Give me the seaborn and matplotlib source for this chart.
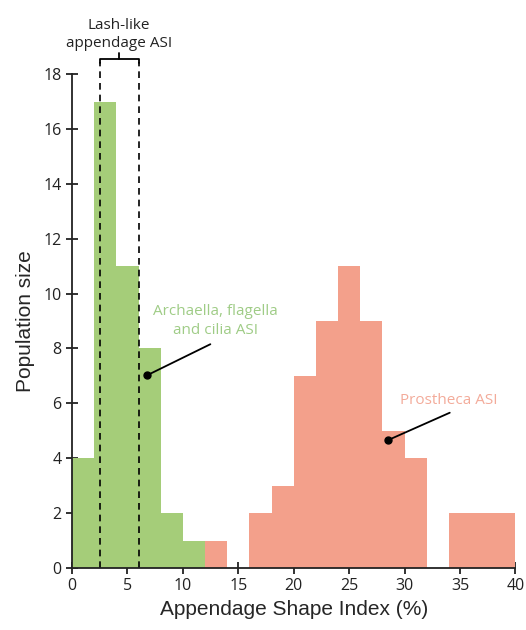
import matplotlib
matplotlib.use("Agg")
import matplotlib.pyplot as plt
import numpy as np
import pandas as pd
import seaborn as sns

# bin edges (width 2 %) and counts
bin_edges = list(range(0, 42, 2))
flag_left = [0, 2, 4, 6, 8, 10]
flag_counts = [4, 17, 11, 8, 2, 1]
pros_left = [12, 16, 18, 20, 22, 24, 26, 28, 30, 34, 36, 38]
pros_counts = [1, 2, 3, 7, 9, 11, 9, 5, 4, 2, 2, 2]
lash_range = [2.5, 6]

green = "#a5cd79"
salmon = "#f3a08b"

flag = pd.DataFrame({"asi": np.array(flag_left) + 1, "n": flag_counts})
pros = pd.DataFrame({"asi": np.array(pros_left) + 1, "n": pros_counts})

sns.set_style("ticks")
plt.rcParams["font.family"] = ["Open Sans", "DejaVu Sans"]

fig = plt.figure(figsize=(5.26, 6.3), dpi=100)
ax = fig.add_axes([0.137, 0.0984, 0.843, 0.784])

sns.histplot(data=flag, x="asi", weights="n", bins=bin_edges, color=green,
             alpha=1, edgecolor="none", linewidth=0, ax=ax)
sns.histplot(data=pros, x="asi", weights="n", bins=bin_edges, color=salmon,
             alpha=1, edgecolor="none", linewidth=0, ax=ax)

ax.set_xlim(0, 40)
ax.set_ylim(0, 18)
ax.set_xticks(range(0, 41, 5))
ax.set_yticks(range(0, 19, 2))
sns.despine(ax=ax)
for s in ["left", "bottom"]:
    ax.spines[s].set_linewidth(1.3)
    ax.spines[s].set_color("#222222")
ax.tick_params(direction="inout", length=8, width=1.3, labelsize=11.5, colors="#222222")

lab = dict(family=["Liberation Sans", "DejaVu Sans"], fontsize=15)
ax.set_xlabel("Appendage Shape Index (%)", labelpad=4, **lab)
ax.set_ylabel("Population size", labelpad=6, **lab)

# lash-like range
for xv in lash_range:
    ax.plot([xv, xv], [0, 18.45], ls=(0, (4, 3)), color="black", lw=1.2, clip_on=False)
xm = sum(lash_range) / 2
ax.plot([lash_range[0], lash_range[0], lash_range[1], lash_range[1]],
        [18.42, 18.55, 18.55, 18.42], color="black", lw=1.3, clip_on=False)
ax.plot([xm, xm], [18.55, 18.78], color="black", lw=1.3, clip_on=False)
ax.text(xm, 19.45, "Lash-like\nappendage ASI", ha="center", va="center",
        fontsize=11, linespacing=1.3, color="#222222")

# annotations
ax.annotate("", xy=(6.8, 7.03), xytext=(12.7, 8.2),
            arrowprops=dict(arrowstyle="-", color="black", lw=1.3))
ax.plot(6.8, 7.03, "o", color="black", ms=5)
ax.text(12.9, 9.0, "Archaella, flagella\nand cilia ASI", ha="center", va="center",
        fontsize=11, color="#9fcc86", linespacing=1.3)

ax.annotate("", xy=(28.5, 4.66), xytext=(34.3, 5.7),
            arrowprops=dict(arrowstyle="-", color="black", lw=1.3))
ax.plot(28.5, 4.66, "o", color="black", ms=5)
ax.text(34.0, 6.1, "Prostheca ASI", ha="center", va="center",
        fontsize=11, color="#f3ab9a")

fig.savefig("out.png", dpi=100)
